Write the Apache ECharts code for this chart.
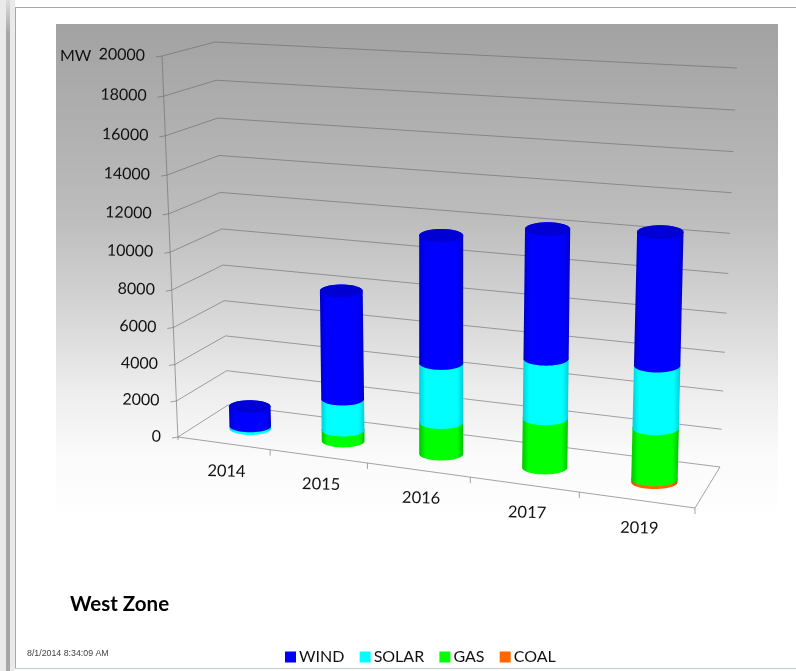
<!DOCTYPE html>
<html><head><meta charset="utf-8">
<script src="https://cdn.jsdelivr.net/npm/echarts@6/dist/echarts.min.js"></script>
<style>html,body{margin:0;padding:0;background:#fff}#c{width:796px;height:671px;filter:blur(0.45px)}</style>
</head><body><div id="c"></div>
<script>
var categories = ['2014', '2015', '2016', '2017', '2019'];
var coal  = [0, 0, 0, 0, 150];
var gas   = [0, 600, 1700, 2600, 2650];
var solar = [150, 1700, 3150, 3100, 3200];
var wind  = [1100, 5800, 6600, 6550, 6600];
var valueTicks = [0, 2000, 4000, 6000, 8000, 10000, 12000, 14000, 16000, 18000, 20000];
var seriesNames = ['COAL', 'GAS', 'SOLAR', 'WIND'];
var legendOrder = ['WIND', 'SOLAR', 'GAS', 'COAL'];

// Perspective box: floor and ceiling quads, (u,d) = along the categories, into the depth.
var floorQuad = [[178,437],[695,508],[720,467],[228,405]];
var topQuad   = [[162,56],[709,91],[737,68],[215,42]];
function homography(q){
  var x0=q[0][0],y0=q[0][1],x1=q[1][0],y1=q[1][1],x2=q[2][0],y2=q[2][1],x3=q[3][0],y3=q[3][1];
  var dx1=x1-x2,dx2=x3-x2,sx=x0-x1+x2-x3,dy1=y1-y2,dy2=y3-y2,sy=y0-y1+y2-y3;
  var den=dx1*dy2-dx2*dy1,g=(sx*dy2-dx2*sy)/den,h=(dx1*sy-sx*dy1)/den;
  var a=x1-x0+g*x1,b=x3-x0+h*x3,d=y1-y0+g*y1,e=y3-y0+h*y3;
  return function(u,w){var k=g*u+h*w+1;return [(a*u+b*w+x0)/k,(d*u+e*w+y0)/k];};
}
var floorH = homography(floorQuad), topH = homography(topQuad);
var WARP=0.06;
function warp(v){return v-WARP*v*(1-v);}
function project(u,d,v){
  var a=floorH(u,d),b=topH(u,d),w=warp(v);
  return [a[0]+(b[0]-a[0])*w,a[1]+(b[1]-a[1])*w];
}
function toBox(api,params,cat,val){
  var p=api.coord([cat,val]),c=params.coordSys;
  return {u:(p[0]-c.x)/c.width,v:(c.y+c.height-p[1])/c.height};
}
var BAR_DEPTH=0.43, FLAT=0.3, BAR_SHIFT=5.5, LEAN=24;
function shade(base,dark){
  return {type:'linear',x:0,y:0,x2:1,y2:0,colorStops:[
    {offset:0,color:dark},{offset:0.14,color:base},{offset:0.86,color:base},{offset:1,color:dark}]};
}
var palette={
  WIND:{c:'#0000ff',d:'#0000c4',top:'#0000d4'},
  SOLAR:{c:'#00ffff',d:'#00cfd6',top:'#00e0e0'},
  GAS:{c:'#00ff00',d:'#00c400',top:'#00e000'},
  COAL:{c:'#ff6600',d:'#d85000',top:'#ff6600'}
};
function ell(cx,cy,rx,ry,a){return [cx+rx*Math.cos(a),cy+ry*Math.sin(a)];}
function barSeries(name,idx){
  var lists=[coal,gas,solar,wind];
  var data=categories.map(function(c,i){
    var base=0;for(var k=0;k<idx;k++)base+=lists[k][i];
    return [i,base+lists[idx][i],base];
  });
  var pal=palette[name];
  return {
    type:'custom',name:name,coordinateSystem:'cartesian2d',z:5+idx,
    itemStyle:{color:pal.c},
    encode:{x:0,y:1},data:data,
    renderItem:function(params,api){
      var i=api.value(0),t=api.value(1),b=api.value(2);
      if(t<=b)return null;
      var lo=toBox(api,params,i,b),hi=toBox(api,params,i,t);
      function ring(q){
        var base=floorH(q.u,BAR_DEPTH),c=project(q.u,BAR_DEPTH,q.v);
        return {cx:base[0]+BAR_SHIFT+LEAN*(q.u-0.5)*warp(q.v),cy:c[1],rx:20.5+3*q.u};
      }
      var L=ring(lo),H=ring(hi),pts=[],n,a;
      for(n=0;n<=24;n++){a=Math.PI-Math.PI*n/24;pts.push(ell(L.cx,L.cy,L.rx,L.rx*FLAT,a));}
      for(n=0;n<=24;n++){a=2*Math.PI-Math.PI*n/24;pts.push(ell(H.cx,H.cy,H.rx,H.rx*FLAT,a));}
      var kids=[{type:'polygon',shape:{points:pts},style:{fill:shade(pal.c,pal.d)}}];
      if(name==='WIND'){
        kids.push({type:'ellipse',shape:{cx:H.cx,cy:H.cy,rx:H.rx,ry:H.rx*FLAT},style:{fill:pal.top}});
      }
      return {type:'group',children:kids};
    }
  };
}
var lineCol='rgba(105,105,105,0.6)';
var gridSeries={
  type:'custom',name:'grid',coordinateSystem:'cartesian2d',silent:true,z:2,
  encode:{x:0,y:1},
  data:valueTicks.map(function(v){return [0,v];}),
  renderItem:function(params,api){
    var val=api.value(1);
    var v=toBox(api,params,0,val).v;
    var a=project(0,0,v),b=project(0,1,v),c=project(1,1,v);
    var kids=[{type:'polyline',shape:{points:[[a[0]-6,a[1]+1],a,b,c]},style:{stroke:lineCol,lineWidth:1,fill:null}}];
    kids.push({type:'text',x:a[0]-17,y:a[1]-0.5,rotation:-0.03,style:{text:String(val),font:'16px Lato',fill:'#111',align:'right',verticalAlign:'middle'}});
    return {type:'group',children:kids};
  }
};
var frameSeries={
  type:'custom',name:'box',coordinateSystem:'cartesian2d',silent:true,z:3,
  encode:{x:0,y:1},
  data:categories.map(function(c,i){return [i,0];}),
  renderItem:function(params,api){
    var i=api.value(0);
    var n=categories.length;
    var u0=i/n,u1=(i+1)/n;
    var a=floorH(u0,0),b=floorH(u1,0),m=toBox(api,params,i,0).u,mp=floorH(m,0);
    var kids=[
      {type:'line',shape:{x1:a[0],y1:a[1],x2:b[0],y2:b[1]},style:{stroke:lineCol,lineWidth:1}},
      {type:'line',shape:{x1:b[0],y1:b[1],x2:b[0],y2:b[1]+6},style:{stroke:lineCol,lineWidth:1}},
      {type:'text',x:mp[0]+3,y:mp[1]+28,rotation:-0.03,style:{text:categories[i],font:'16.5px Lato',fill:'#111',align:'center',verticalAlign:'middle'}}
    ];
    if(i===0){
      var t=topH(0,0);
      kids.push({type:'line',shape:{x1:a[0],y1:a[1]+3,x2:t[0],y2:t[1]},style:{stroke:lineCol,lineWidth:1}});
    }
    if(i===n-1){
      var br=floorH(1,1);
      kids.push({type:'line',shape:{x1:b[0],y1:b[1],x2:br[0],y2:br[1]},style:{stroke:lineCol,lineWidth:1}});
    }
    return {type:'group',children:kids};
  }
};
var chart=echarts.init(document.getElementById('c'),null,{renderer:'canvas'});
chart.setOption({
  animation:false,
  backgroundColor:'#ffffff',
  grid:{left:150,top:55,width:560,height:382},
  xAxis:{type:'category',data:categories,show:false},
  yAxis:{type:'value',min:0,max:20000,interval:2000,show:false},
  title:[
    {text:'West Zone',left:65,top:589,textStyle:{fontFamily:'Lato',fontWeight:'bold',fontSize:20.5,color:'#000'}},
    {text:'8/1/2014 8:34:09 AM',left:22,top:644,textStyle:{fontFamily:'Liberation Sans',fontWeight:'normal',fontSize:8.8,color:'#444'}},
    {text:'MW',left:55,top:43,textStyle:{fontFamily:'Lato',fontWeight:'normal',fontSize:16,color:'#111'}}
  ],
  legend:{data:legendOrder,left:280,top:644,itemWidth:11,itemHeight:11,itemGap:15.2,icon:'rect',
    textStyle:{fontFamily:'Lato',fontSize:16,color:'#111',padding:[0,0,0,-2]},selectedMode:false},
  graphic:{elements:[
    {type:'rect',z:-10,shape:{x:0,y:0,width:15,height:671},style:{fill:'#eaeaea'}},
    {type:'rect',z:-9,shape:{x:6,y:0,width:4,height:671},
      style:{fill:new echarts.graphic.LinearGradient(0,0,0,1,[{offset:0,color:'#dddddd'},{offset:0.05,color:'#a6a6a6'},{offset:1,color:'#a6a6a6'}])}},
    {type:'rect',z:-9,shape:{x:15,y:7,width:781,height:1},style:{fill:'#a8a8a8'}},
    {type:'rect',z:-9,shape:{x:15,y:7,width:1,height:662},style:{fill:'#a8a8a8'}},
    {type:'rect',z:-9,shape:{x:15,y:668,width:781,height:1},style:{fill:'#c4ccd0'}},
    {type:'rect',z:-8,shape:{x:56,y:24,width:722,height:506},
      style:{fill:new echarts.graphic.LinearGradient(0,0,0,1,[
        {offset:0,color:'#a2a2a2'},{offset:0.387,color:'#bdbdbd'},{offset:0.585,color:'#d8d8d8'},
        {offset:0.717,color:'#ececec'},{offset:0.848,color:'#fafafa'},{offset:0.98,color:'#ffffff'},{offset:1,color:'#ffffff'}])}}
  ]},
  series:[gridSeries,frameSeries].concat(seriesNames.map(barSeries))
});
</script></body></html>
